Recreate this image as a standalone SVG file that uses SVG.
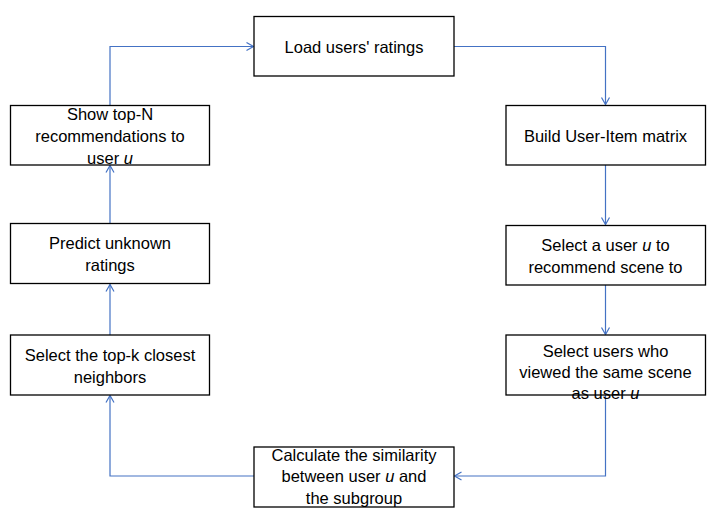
<svg xmlns="http://www.w3.org/2000/svg" width="727" height="517" viewBox="0 0 727 517">
<style>
.box{fill:#fff;stroke:#000;stroke-width:1.3}
.t{font-family:"Liberation Sans",Arial,sans-serif;font-size:16.5px;fill:#000;text-anchor:middle}
.c{fill:none;stroke:#4472C4;stroke-width:1.2;marker-end:url(#ah)}
</style>
<defs>
<marker id="ah" markerWidth="12" markerHeight="12" refX="8" refY="5" orient="auto" markerUnits="userSpaceOnUse">
<path d="M1,1 L8,5 L1,9" fill="none" stroke="#4472C4" stroke-width="1.2"/>
</marker>
</defs>
<rect width="727" height="517" fill="#fff"/>
<g id="connectors">
<path class="c" d="M454,46.5 H605.5 V104.5"/>
<path class="c" d="M605.5,165 V224.5"/>
<path class="c" d="M605.5,285 V334.5"/>
<path class="c" d="M605.5,395 V476 H454.5"/>
<path class="c" d="M254,476 H110 V395.5"/>
<path class="c" d="M110,335 V284.5"/>
<path class="c" d="M110,223 V165.5"/>
<path class="c" d="M110,105 V46.5 H253.5"/>
</g>
<g id="load">
<rect class="box" x="254" y="16.5" width="200" height="59.5"/>
<text class="t" x="354" y="52.5">Load users' ratings</text>
</g>
<g id="build">
<rect class="box" x="506" y="105.5" width="199.5" height="59.5"/>
<text class="t" x="605.5" y="141.5">Build User-Item matrix</text>
</g>
<g id="select-user">
<rect class="box" x="506" y="225.5" width="199.5" height="59.5"/>
<text class="t" x="605.5" y="250.5">Select a user <tspan font-style="italic">u</tspan> to</text>
<text class="t" x="605.5" y="272.5">recommend scene to</text>
</g>
<g id="select-users">
<rect class="box" x="506" y="335" width="199.5" height="60"/>
<text class="t" x="605.5" y="357">Select users who</text>
<text class="t" x="605.5" y="378">viewed the same scene</text>
<text class="t" x="605.5" y="399">as user <tspan font-style="italic">u</tspan></text>
</g>
<g id="calculate">
<rect class="box" x="254" y="447" width="200" height="60"/>
<text class="t" x="354" y="460.5">Calculate the similarity</text>
<text class="t" x="354" y="482">between user <tspan font-style="italic">u</tspan> and</text>
<text class="t" x="354" y="503.5">the subgroup</text>
</g>
<g id="topk">
<rect class="box" x="10.5" y="335" width="199" height="60"/>
<text class="t" x="110" y="360.5">Select the top-k closest</text>
<text class="t" x="110" y="382.5">neighbors</text>
</g>
<g id="predict">
<rect class="box" x="10.5" y="223.5" width="199" height="60"/>
<text class="t" x="110" y="248.5">Predict unknown</text>
<text class="t" x="110" y="270.5">ratings</text>
</g>
<g id="show">
<rect class="box" x="10.5" y="105.5" width="199" height="59.5"/>
<text class="t" x="110" y="120">Show top-N</text>
<text class="t" x="110" y="142">recommendations to</text>
<text class="t" x="110" y="163.5">user <tspan font-style="italic">u</tspan></text>
</g>
</svg>
